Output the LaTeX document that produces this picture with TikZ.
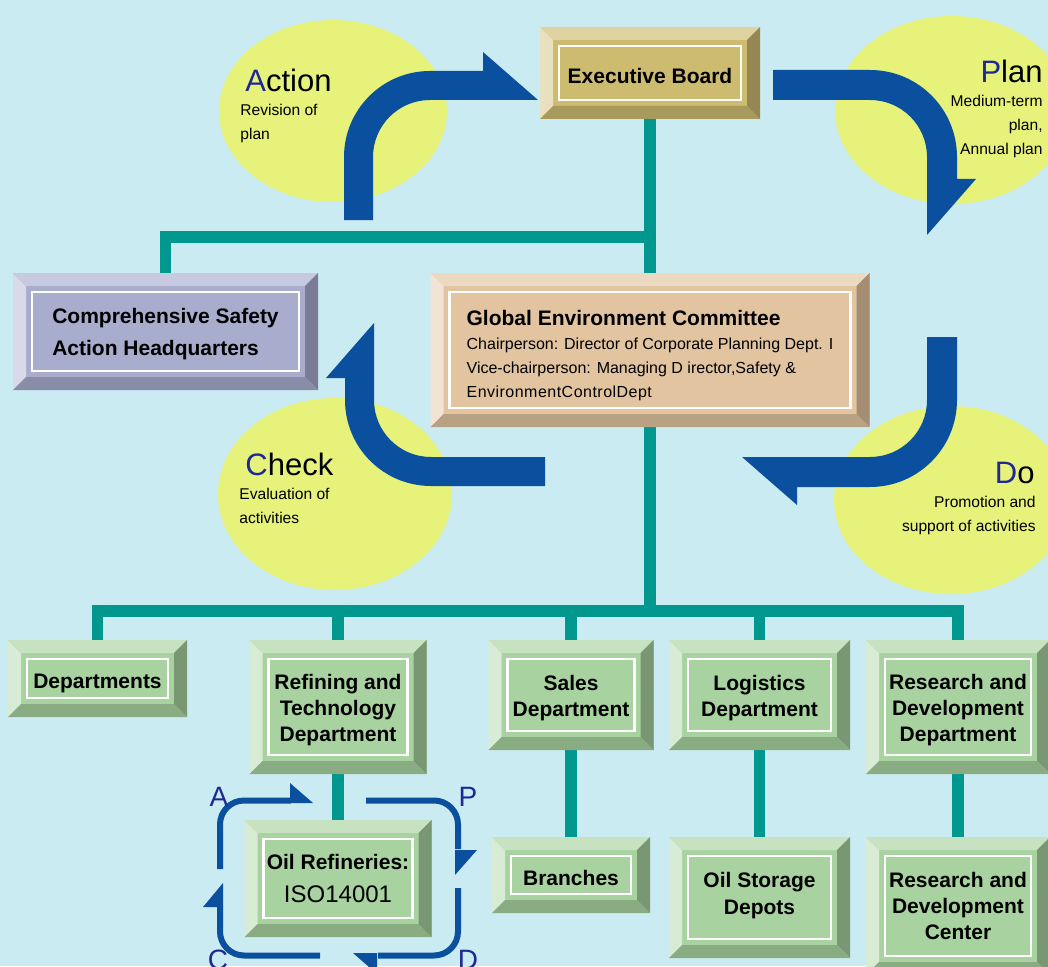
\documentclass[tikz,border=0pt]{standalone}
\usepackage{fontspec}
\setmainfont{Liberation Sans}
\usetikzlibrary{backgrounds}

\definecolor{bgblue}{RGB}{202,235,242}
\definecolor{leaf}{RGB}{230,242,122}
\definecolor{linkteal}{RGB}{0,152,142}
\definecolor{arrowblue}{RGB}{10,80,158}
\definecolor{letterblue}{RGB}{30,40,150}
\definecolor{boardtan}{RGB}{205,187,112}
\definecolor{committee}{RGB}{226,196,160}
\definecolor{safetyblue}{RGB}{168,172,205}
\definecolor{deptgreen}{RGB}{168,210,160}

\pgfdeclarelayer{back}
\pgfdeclarelayer{links}
\pgfsetlayers{back,links,main}

\newcommand{\bevw}{6.5pt}
\newcommand{\boxfont}{\fontsize{10.5}{13.2}\selectfont\bfseries}
\newcommand{\detailfont}{\fontsize{8}{12}\selectfont}
\newcommand{\notefont}{\fontsize{7.8}{12}\selectfont}
\newcommand{\phasefont}{\fontsize{15.5}{18}\selectfont}
\newcommand{\pdcafont}{\fontsize{14}{16}\selectfont}
\newcommand{\lift}{\rule{0pt}{10.6pt}}

% raised box: face colour, bevelled rim, thin white frame
\tikzset{bevelbox/.style={rectangle, fill=#1, inner sep=0pt, align=center, font=\boxfont,
  path picture={
    \coordinate (pp1) at (path picture bounding box.south west);
    \coordinate (pp2) at (path picture bounding box.north west);
    \coordinate (pp3) at (path picture bounding box.north east);
    \coordinate (pp4) at (path picture bounding box.south east);
    \fill[#1!45!white] (pp1) -- (pp2) -- ([shift={(\bevw,-\bevw)}]pp2) -- ([shift={(\bevw,\bevw)}]pp1) -- cycle;
    \fill[#1!65!white] (pp2) -- (pp3) -- ([shift={(-\bevw,-\bevw)}]pp3) -- ([shift={(\bevw,-\bevw)}]pp2) -- cycle;
    \fill[#1!72!black] (pp3) -- (pp4) -- ([shift={(-\bevw,\bevw)}]pp4) -- ([shift={(-\bevw,-\bevw)}]pp3) -- cycle;
    \fill[#1!82!black] (pp4) -- (pp1) -- ([shift={(\bevw,\bevw)}]pp1) -- ([shift={(-\bevw,\bevw)}]pp4) -- cycle;
    \draw[white, line width=1.25pt] ([shift={(\bevw+3pt,\bevw+3pt)}]pp1) rectangle ([shift={(-\bevw-3pt,-\bevw-3pt)}]pp3);
  }}}

\begin{document}
\begin{tikzpicture}[x=0.5pt, y=0.5pt]
  \tikzstyle{link}=[draw=linkteal, line width=5.75pt]
  \tikzstyle{bigarrow}=[fill=arrowblue]
  \tikzstyle{pdca}=[draw=arrowblue, line width=3pt, rounded corners=12pt]
  \tikzstyle{phase}=[inner sep=0pt, font=\phasefont]
  \tikzstyle{note}=[inner sep=0pt, font=\notefont]
  \tikzstyle{letter}=[inner sep=0pt, font=\pdcafont, text=letterblue]

  \useasboundingbox (0,0) rectangle (1048,966);
  \clip (0,0) rectangle (1048,966);

  \begin{pgfonlayer}{back}
    \clip (0,0) rectangle (1048,966);
    \fill[bgblue] (0,0) rectangle (1048,966);
    \fill[leaf] (333,855) ellipse [x radius=57pt, y radius=45.5pt];
    \fill[leaf] (952,856) ellipse [x radius=58.5pt, y radius=47pt];
    \fill[leaf] (335,472) ellipse [x radius=58.5pt, y radius=48pt];
    \fill[leaf] (951,466) ellipse [x radius=58.5pt, y radius=47pt];
  \end{pgfonlayer}

  % the four phases
  \node[phase, anchor=base west] (actword) at (245,874) {{\color{letterblue}A}ction};
  \node[note, anchor=north west, align=left] (actnote) at (240,862) {Revision of\\plan};
  \node[phase, anchor=base east] (planword) at (1043,883) {{\color{letterblue}P}lan};
  \node[note, anchor=north east, align=right] (plannote) at (1043,871) {Medium-term\\plan,\\Annual plan};
  \node[phase, anchor=base west] (checkword) at (245,491) {{\color{letterblue}C}heck};
  \node[note, anchor=north west, align=left] (checknote) at (239,478) {Evaluation of\\activities};
  \node[phase, anchor=base east] (doword) at (1035,483) {{\color{letterblue}D}o};
  \node[note, anchor=north east, align=right] (donote) at (1036,470) {Promotion and\\support of activities};

  % big cycle arrows
  \fill[bigarrow] (344,746) -- (344,809) arc[start angle=180, end angle=90, radius=43pt]
    -- (483,895) -- (483,914) -- (538,866) -- (430,866)
    arc[start angle=90, end angle=180, radius=28.5pt] -- (373,746) -- cycle;
  \fill[bigarrow] (773,896) -- (870,896) arc[start angle=90, end angle=0, radius=43.5pt]
    -- (957,787) -- (976,787) -- (927,731) -- (927,809)
    arc[start angle=0, end angle=90, radius=28.5pt] -- (773,866) -- cycle;
  \fill[bigarrow] (927,629) -- (957,629) -- (957,566) arc[start angle=0, end angle=-90, radius=43.5pt]
    -- (797,479) -- (797,461) -- (742,509) -- (870,509)
    arc[start angle=-90, end angle=0, radius=28.5pt] -- cycle;
  \fill[bigarrow] (374,643) -- (374,566) arc[start angle=180, end angle=270, radius=28.5pt]
    -- (545,509) -- (545,480) -- (431,480)
    arc[start angle=270, end angle=180, radius=43pt] -- (345,588) -- (326,588) -- cycle;

  % boxes
  \node[bevelbox=boardtan, minimum width=110pt, minimum height=46pt] (exec) at (650,893) {\lift Executive Board};
  \node[bevelbox=committee, minimum width=219.5pt, minimum height=77pt, align=left, font=\detailfont] (global) at (650,616)
    {{\fontsize{10.5}{12.5}\selectfont\bfseries\rule{0pt}{13.5pt}Global Environment Committee}\\
     Chairperson: Director of Corporate Planning Dept. I\\
     Vice-chairperson: Managing D irector,Safety \&\\
     {\addfontfeature{LetterSpace=3}EnvironmentControlDept}};
  \node[bevelbox=safetyblue, minimum width=152.5pt, minimum height=58.5pt, align=left,
    font={\fontsize{10.5}{16}\selectfont\bfseries}] (safety) at (165.5,634.5) {\lift Comprehensive Safety\\Action Headquarters};

  \node[bevelbox=deptgreen, minimum width=89.5pt, minimum height=38.5pt] (depts) at (97.5,287.5) {\rule{0pt}{12pt}Departments};
  \node[bevelbox=deptgreen, minimum width=88.5pt, minimum height=67pt] (refining) at (338,259) {\lift Refining and\\Technology\\Department};
  \node[bevelbox=deptgreen, minimum width=82.5pt, minimum height=55pt] (sales) at (571,271) {\lift Sales\\Department};
  \node[bevelbox=deptgreen, minimum width=90.5pt, minimum height=55pt] (logistics) at (759.5,271) {\lift Logistics\\Department};
  \node[bevelbox=deptgreen, minimum width=92pt, minimum height=67pt] (rnddept) at (958,259) {\lift Research and\\Development\\Department};

  \node[bevelbox=deptgreen, minimum width=93.5pt, minimum height=58.5pt] (refineries) at (338,87.5)
    {Oil Refineries:\\[3pt]{\mdseries\fontsize{12}{14}\selectfont ISO14001}};
  \node[bevelbox=deptgreen, minimum width=79pt, minimum height=38pt] (branches) at (571,91) {\lift Branches};
  \node[bevelbox=deptgreen, minimum width=90.5pt, minimum height=60.5pt] (depots) at (759.5,68.5) {Oil Storage\\Depots\rule[-4pt]{0pt}{4pt}};
  \node[bevelbox=deptgreen, minimum width=92pt, minimum height=69pt] (rndcenter) at (958,60) {Research and\\Development\\Center};

  % teal tree
  \coordinate (topjoin) at (650,729);
  \coordinate (bus) at (650,355);
  \begin{pgfonlayer}{links}
    \draw[link] (exec.south) -- (global.north);
    \draw[link] (topjoin) -| (safety.north);
    \draw[link] (global.south) -- (bus);
    \draw[link] (depts.north) |- (bus) -| (rnddept.north);
    \foreach \d in {refining,sales,logistics}
      \draw[link] (\d.north) -- (\d.north |- bus);
    \draw[link] (refining) -- (refineries);
    \draw[link] (sales) -- (branches);
    \draw[link] (logistics) -- (depots);
    \draw[link] (rnddept) -- (rndcenter);
  \end{pgfonlayer}

  % small PDCA loop round the refineries
  \draw[pdca] (220,97) |- (291,165.5);
  \fill[arrowblue] (290,183) -- (313,163) -- (290,163) -- cycle;
  \draw[pdca] (366,165.5) -| (458,117);
  \fill[arrowblue] (455,116) -- (477,116) -- (455,91) -- cycle;
  \draw[pdca] (458,78) |- (378,10.5);
  \fill[arrowblue] (377,13) -- (353,13) -- (377,-8) -- cycle;
  \draw[pdca] (320,10.5) -| (220,60);
  \fill[arrowblue] (203,59) -- (223,59) -- (223,83) -- cycle;
  \node[letter] (la) at (219,169) {A};
  \node[letter] (lp) at (468,169) {P};
  \node[letter] (lc) at (218,6) {C};
  \node[letter] (ld) at (468,6) {D};
\end{tikzpicture}
\end{document}
